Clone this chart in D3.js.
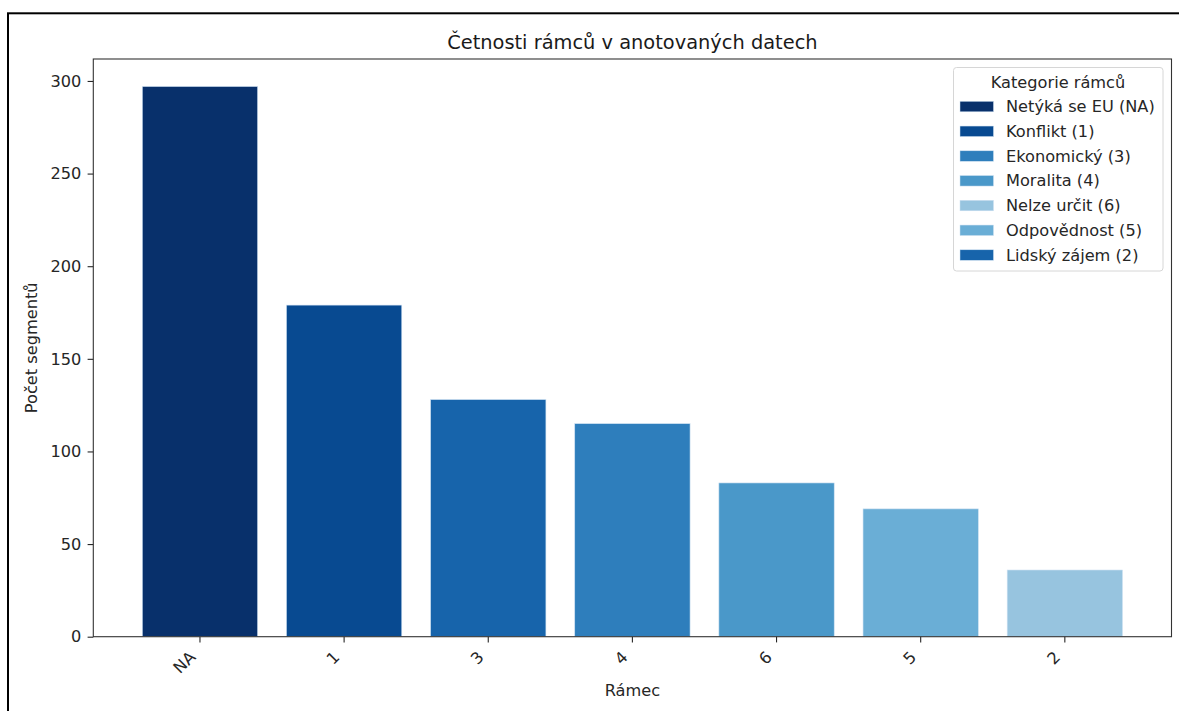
<!DOCTYPE html>
<html>
<head>
<meta charset="utf-8">
<script src="https://cdn.jsdelivr.net/npm/d3@7"></script>
<style>
  body { margin: 0; background: #fff; }
  svg { display: block; font-family: "DejaVu Sans", sans-serif; }
</style>
</head>
<body>
<svg id="chart" width="1179" height="711"></svg>
<script>
const categories = ["NA", "1", "3", "4", "6", "5", "2"];
const counts = [297, 179, 128, 115, 83, 69, 36];
const barColors = ["#08306b", "#084a91", "#1764ab", "#2e7ebc", "#4a98c9", "#6aaed6", "#97c4df"];
const legendLabels = ["Netýká se EU (NA)", "Konflikt (1)", "Ekonomický (3)", "Moralita (4)", "Nelze určit (6)", "Odpovědnost (5)", "Lidský zájem (2)"];
const legendColors = ["#08306b", "#084a91", "#2e7ebc", "#4a98c9", "#97c4df", "#6aaed6", "#1764ab"];
const yTicks = [0, 50, 100, 150, 200, 250, 300];

(function () {
const svg = d3.select("#chart");
const pLeft = 93.3, pRight = 1171.5, pTop = 59, pBottom = 636.7;
const fs = "16.2px";

// outer figure border
svg.append("rect").attr("x", 8).attr("y", 13.3).attr("width", 1200).attr("height", 800)
  .attr("fill", "none").attr("stroke", "#000").attr("stroke-width", 2);

const x = d3.scaleBand().domain(categories).range([pLeft, pRight]).paddingInner(0.2).paddingOuter(0.34);
const y = d3.scaleLinear().domain([0, 311.85]).range([pBottom, pTop]);

// bars
svg.append("g").selectAll("rect").data(categories).join("rect")
  .attr("x", d => x(d))
  .attr("width", x.bandwidth())
  .attr("y", (d, i) => y(counts[i]))
  .attr("height", (d, i) => y(0) - y(counts[i]))
  .attr("fill", (d, i) => barColors[i])
  .attr("stroke", "#cfe1f2").attr("stroke-width", 0.6);

// y axis
const yAxis = svg.append("g").attr("transform", `translate(${pLeft},0)`)
  .call(d3.axisLeft(y).tickValues(yTicks).tickSize(5.7).tickPadding(6.2));
yAxis.select(".domain").remove();
yAxis.selectAll("text").attr("font-size", fs).attr("fill", "#262626").attr("font-family", "DejaVu Sans");
yAxis.selectAll("line").attr("stroke", "#262626").attr("stroke-width", 1.1);

// x axis
const xAxis = svg.append("g").attr("transform", `translate(0,${pBottom})`)
  .call(d3.axisBottom(x).tickSize(5.7).tickPadding(4));
xAxis.select(".domain").remove();
xAxis.selectAll("line").attr("stroke", "#262626").attr("stroke-width", 1.1);
xAxis.selectAll("text")
  .attr("font-size", fs).attr("fill", "#262626").attr("font-family", "DejaVu Sans")
  .attr("text-anchor", "end")
  .attr("x", 0).attr("y", 0).attr("dy", 0)
  .attr("transform", "translate(-3.5,21.5) rotate(-45)");

// axes frame
svg.append("rect").attr("x", pLeft).attr("y", pTop).attr("width", pRight - pLeft).attr("height", pBottom - pTop)
  .attr("fill", "none").attr("stroke", "#333").attr("stroke-width", 1.1);

// title
svg.append("text").attr("x", (pLeft + pRight) / 2).attr("y", 48.5)
  .attr("text-anchor", "middle").attr("font-size", "19.4px").attr("fill", "#1a1a1a")
  .text("Četnosti rámců v anotovaných datech");

// axis labels
svg.append("text").attr("x", (pLeft + pRight) / 2).attr("y", 695.5)
  .attr("text-anchor", "middle").attr("font-size", fs).attr("fill", "#262626")
  .text("Rámec");
svg.append("text").attr("transform", `translate(37,${(pTop + pBottom) / 2}) rotate(-90)`)
  .attr("text-anchor", "middle").attr("font-size", fs).attr("fill", "#262626")
  .text("Počet segmentů");

// legend
const lg = svg.append("g");
lg.append("rect").attr("x", 953.5).attr("y", 67.5).attr("width", 209.5).attr("height", 203.5)
  .attr("rx", 3).attr("fill", "#fff").attr("fill-opacity", 0.8)
  .attr("stroke", "#d6d6d6").attr("stroke-width", 1);
lg.append("text").attr("x", 1058).attr("y", 88).attr("text-anchor", "middle")
  .attr("font-size", fs).attr("fill", "#262626").text("Kategorie rámců");
const items = lg.selectAll("g.item").data(legendLabels).join("g").attr("class", "item")
  .attr("transform", (d, i) => `translate(0,${106.3 + i * 24.75})`);
items.append("rect").attr("x", 960).attr("y", -5).attr("width", 33.5).attr("height", 10.5)
  .attr("fill", (d, i) => legendColors[i]).attr("stroke", "#cfe1f2").attr("stroke-width", 0.5);
items.append("text").attr("x", 1006).attr("y", 5.8).attr("font-size", fs).attr("fill", "#262626")
  .text(d => d);
})();
</script>
</body>
</html>
